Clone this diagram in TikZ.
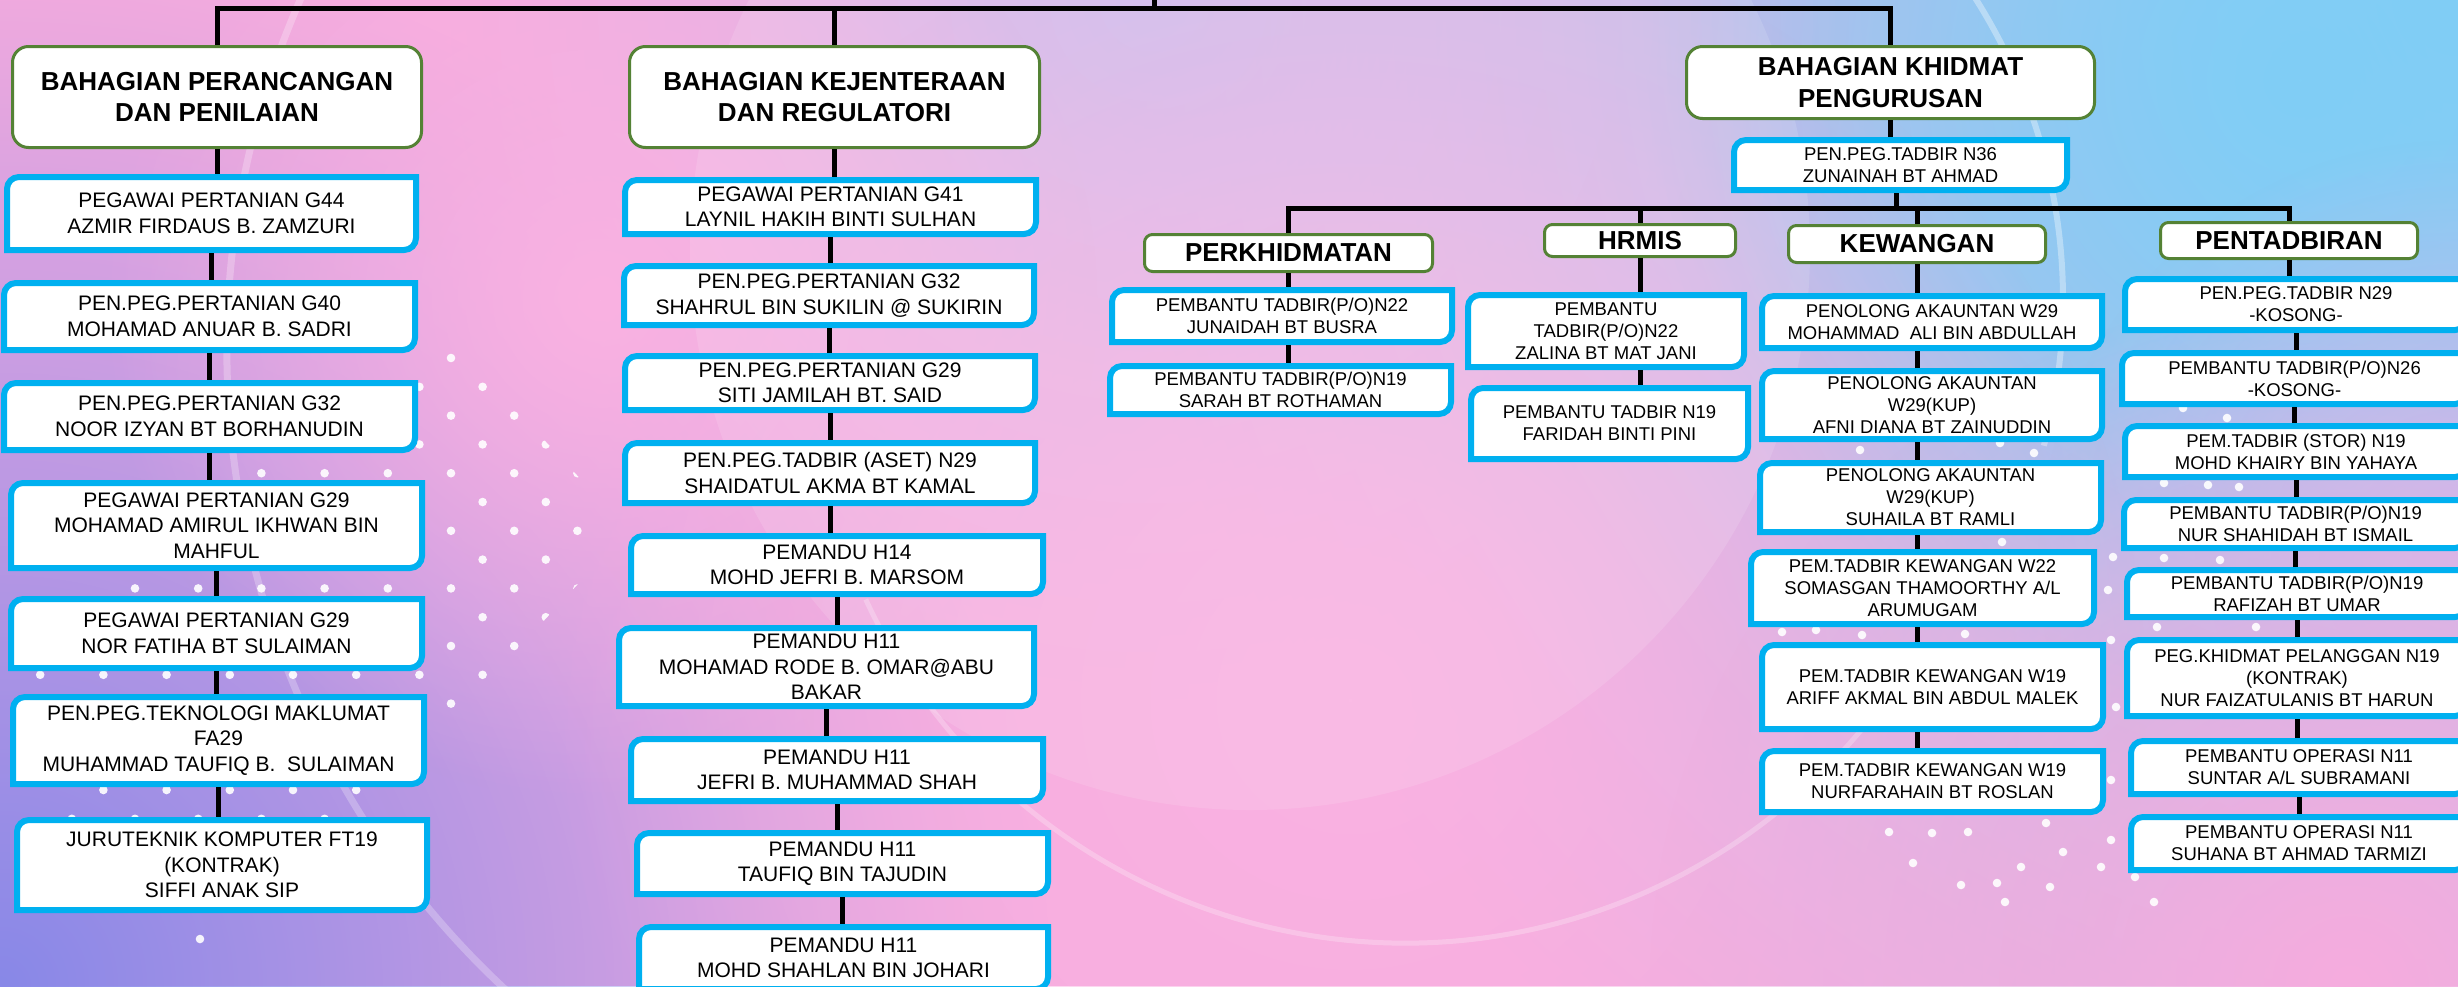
\documentclass[tikz,border=0pt]{standalone}
\usepackage{fontspec}
\setmainfont{Liberation Sans}
\usetikzlibrary{calc,fadings}
\definecolor{bgpink}{RGB}{246,172,222}
\definecolor{bgrose}{RGB}{250,178,226}
\definecolor{bgsky}{RGB}{128,206,246}
\definecolor{bgviolet}{RGB}{136,136,232}
\definecolor{bglilac}{RGB}{204,186,236}
\definecolor{rimblue}{RGB}{0,176,240}
\definecolor{headgreen}{RGB}{84,130,53}
\tikzfading[name=glowfade, inner color=transparent!0, outer color=transparent!100]

\begin{document}
\begin{tikzpicture}[x=1pt,y=1pt,
  link/.style={line width=5pt},
  boxsize/.style 2 args={minimum width=#1pt,minimum height=#2pt},
  division/.style={draw=headgreen,line width=3pt,fill=white,rounded corners=16pt,align=center,inner sep=0pt,font=\bfseries\fontsize{26}{31.5}\selectfont},
  unit/.style={division,rounded corners=8pt},
  staff/.style={align=center,inner sep=0pt,font=\fontsize{21}{25.5}\selectfont,
    path picture={
      \coordinate (framene) at ($(path picture bounding box.north east)+(-3,-3)$);
      \coordinate (framesw) at ($(path picture bounding box.south west)+(3,3)$);
      \filldraw[fill=white,draw=rimblue,line width=6pt] (framene) -- ($(framene |- framesw)+(0,12)$) arc[start angle=0,end angle=-90,radius=12pt] -- (framesw) -- ($(framesw |- framene)+(0,-12)$) arc[start angle=180,end angle=90,radius=12pt] -- cycle;
    }},
  small/.style={staff,font=\fontsize{18.5}{22}\selectfont},
  spot/.style={white,opacity=0.9}]
\useasboundingbox (0,0) rectangle (2458,-986);
\fill[bgpink] (0,0) rectangle (2458,-986);
\fill[bgviolet,path fading=glowfade] (0,-986) circle (1050pt);
\fill[bgsky,path fading=glowfade] (2458,0) circle (1350pt);
\fill[bgsky,path fading=glowfade] (2300,-80) circle (650pt);
\fill[bglilac,path fading=glowfade] (1150,0) circle (700pt);
\fill[bglilac,path fading=glowfade] (2458,-560) circle (420pt);
\fill[bgrose,path fading=glowfade] (600,-300) circle (500pt);
\fill[bgrose,path fading=glowfade] (1350,-700) circle (800pt);
\fill[bgpink,path fading=glowfade] (2350,-986) circle (700pt);
\fill[white,opacity=0.12] (1250,-250) circle (560pt);
\draw[white,opacity=0.25,line width=7pt] (1100,-350) ++(150:873) arc[start angle=150,end angle=240,radius=873pt];
\draw[white,opacity=0.25,line width=5pt] (1405,-348) ++(205:595) arc[start angle=205,end angle=330,radius=595pt];
\draw[white,opacity=0.35,line width=6pt] (1500,-300) ++(40:563) arc[start angle=40,end angle=-15,radius=563pt];
\begin{scope}
\clip (451,-340) -- (628,-530) -- (345,-835) -- (55,-835) -- (25,-665) -- (255,-458) -- cycle;
\foreach \k in {0,...,17}{
  \foreach \i in {-7,...,3}{
    \fill[spot] ({451+63.2*\i+31.6*mod(\k,2)},{-358-28.8*\k}) circle (4.3pt);
  }
}
\end{scope}
\foreach \px/\py in {200/939,1889/832,1932/833,1968/832,2046/823,2111/840,2063/852,1913/863,2021/867,2101/867,1961/885,1997/883,2050/887,2005/902,2154/902,2135/877,2116/707,2111/780,2092/720,2113/557,2108/590,2111/640,2220/560,2164/558,2157/627,2256/627,1782/632,1816/630,1862/635,1965/634,2002/542,1995/563,1860/450,2000/443,2034/453,2183/408,2227/418,2164/483,2208/485,2239/487}
  \fill[spot] (\px,-\py) circle (4.3pt);

\node[division,boxsize={409}{101}] (hl) at (217,-97) {BAHAGIAN PERANCANGAN\\DAN PENILAIAN};
\node[division,boxsize={410}{101}] (hm) at (834.5,-97) {BAHAGIAN KEJENTERAAN\\DAN REGULATORI};
\node[division,boxsize={408}{72}] (hr) at (1890.5,-82.5) {BAHAGIAN KHIDMAT\\PENGURUSAN};

\node[staff,boxsize={415}{79}] (l1) at (211.5,-213.5) {PEGAWAI PERTANIAN G44\\AZMIR FIRDAUS B. ZAMZURI};
\node[staff,boxsize={417}{73}] (l2) at (209.5,-316.5) {PEN.PEG.PERTANIAN G40\\MOHAMAD ANUAR B. SADRI};
\node[staff,boxsize={417}{73}] (l3) at (209.5,-416.5) {PEN.PEG.PERTANIAN G32\\NOOR IZYAN BT BORHANUDIN};
\node[staff,boxsize={417}{91}] (l4) at (216.5,-525.5) {PEGAWAI PERTANIAN G29\\MOHAMAD AMIRUL IKHWAN BIN\\MAHFUL};
\node[staff,boxsize={417}{75}] (l5) at (216.5,-633.5) {PEGAWAI PERTANIAN G29\\NOR FATIHA BT SULAIMAN};
\node[staff,boxsize={417}{93}] (l6) at (218.5,-740.5) {PEN.PEG.TEKNOLOGI MAKLUMAT\\FA29\\MUHAMMAD TAUFIQ B.\ \ SULAIMAN};
\node[staff,boxsize={416}{96}] (l7) at (222,-865) {JURUTEKNIK KOMPUTER FT19\\(KONTRAK)\\SIFFI ANAK SIP};

\node[staff,boxsize={417}{60}] (m1) at (830.5,-207) {PEGAWAI PERTANIAN G41\\LAYNIL HAKIH BINTI SULHAN};
\node[staff,boxsize={416}{65}] (m2) at (829,-295.5) {PEN.PEG.PERTANIAN G32\\SHAHRUL BIN SUKILIN @ SUKIRIN};
\node[staff,boxsize={416}{60}] (m3) at (830,-383) {PEN.PEG.PERTANIAN G29\\SITI JAMILAH BT. SAID};
\node[staff,boxsize={416}{66}] (m4) at (830,-473) {PEN.PEG.TADBIR (ASET) N29\\SHAIDATUL AKMA BT KAMAL};
\node[staff,boxsize={418}{64}] (m5) at (837,-565) {PEMANDU H14\\MOHD JEFRI B. MARSOM};
\node[staff,boxsize={421}{84}] (m6) at (826.5,-667) {PEMANDU H11\\MOHAMAD RODE B. OMAR@ABU\\BAKAR};
\node[staff,boxsize={418}{68}] (m7) at (837,-770) {PEMANDU H11\\JEFRI B. MUHAMMAD SHAH};
\node[staff,boxsize={417}{67}] (m8) at (842.5,-863.5) {PEMANDU H11\\TAUFIQ BIN TAJUDIN};
\node[staff,boxsize={415}{68}] (m9) at (843.5,-958) {PEMANDU H11\\MOHD SHAHLAN BIN JOHARI};

\node[small,boxsize={339}{56}] (r0) at (1900.5,-165) {PEN.PEG.TADBIR N36\\ZUNAINAH BT AHMAD};

\node[unit,boxsize={288}{37}] (hp) at (1288.5,-253) {PERKHIDMATAN};
\node[unit,boxsize={191}{32}] (hh) at (1640,-240.5) {HRMIS};
\node[unit,boxsize={257}{37}] (hk) at (1917,-244) {KEWANGAN};
\node[unit,boxsize={257}{36}] (ht) at (2289,-240.5) {PENTADBIRAN};

\node[small,boxsize={346}{58}] (p1) at (1282,-316) {PEMBANTU TADBIR(P/O)N22\\JUNAIDAH BT BUSRA};
\node[small,boxsize={347}{54}] (p2) at (1280.5,-390) {PEMBANTU TADBIR(P/O)N19\\SARAH BT ROTHAMAN};
\node[small,boxsize={282}{78}] (h1) at (1606,-331) {PEMBANTU\\TADBIR(P/O)N22\\ZALINA BT MAT JANI};
\node[small,boxsize={283}{77}] (h2) at (1609.5,-423.5) {PEMBANTU TADBIR N19\\FARIDAH BINTI PINI};

\node[small,boxsize={346}{58}] (k1) at (1932,-322) {PENOLONG AKAUNTAN W29\\MOHAMMAD\ \ ALI BIN ABDULLAH};
\node[small,boxsize={346}{74}] (k2) at (1932,-405) {PENOLONG AKAUNTAN\\W29(KUP)\\AFNI DIANA BT ZAINUDDIN};
\node[small,boxsize={347}{75}] (k3) at (1930.5,-497.5) {PENOLONG AKAUNTAN\\W29(KUP)\\SUHAILA BT RAMLI};
\node[small,boxsize={349}{78}] (k4) at (1922.5,-588) {PEM.TADBIR KEWANGAN W22\\SOMASGAN THAMOORTHY A/L\\ARUMUGAM};
\node[small,boxsize={347}{90}] (k5) at (1932.5,-687) {PEM.TADBIR KEWANGAN W19\\ARIFF AKMAL BIN ABDUL MALEK};
\node[small,boxsize={347}{67}] (k6) at (1932.5,-781.5) {PEM.TADBIR KEWANGAN W19\\NURFARAHAIN BT ROSLAN};

\node[small,boxsize={348}{57}] (t1) at (2296,-304.5) {PEN.PEG.TADBIR N29\\-KOSONG-};
\node[small,boxsize={351}{57}] (t2) at (2294.5,-378.5) {PEMBANTU TADBIR(P/O)N26\\-KOSONG-};
\node[small,boxsize={348}{57}] (t3) at (2296,-451.5) {PEM.TADBIR (STOR) N19\\MOHD KHAIRY BIN YAHAYA};
\node[small,boxsize={349}{54}] (t4) at (2295.5,-524) {PEMBANTU TADBIR(P/O)N19\\NUR SHAHIDAH BT ISMAIL};
\node[small,boxsize={346}{53}] (t5) at (2297,-593.5) {PEMBANTU TADBIR(P/O)N19\\RAFIZAH BT UMAR};
\node[small,boxsize={346}{82}] (t6) at (2297,-678) {PEG.KHIDMAT PELANGGAN N19\\(KONTRAK)\\NUR FAIZATULANIS BT HARUN};
\node[small,boxsize={342}{59}] (t7) at (2299,-767.5) {PEMBANTU OPERASI N11\\SUNTAR A/L SUBRAMANI};
\node[small,boxsize={342}{59}] (t8) at (2299,-843.5) {PEMBANTU OPERASI N11\\SUHANA BT AHMAD TARMIZI};

\coordinate (stem) at (1154,0);
\coordinate (bar) at (1154,-8);
\coordinate (branch) at (1896,-208);
\draw[link] (hl.north) |- (bar) -| (hr.north);
\draw[link] (hm.north) -- (hm.north |- bar);
\draw[link] (bar) -- (stem);
\draw[link] (hl.south) -- (hl.south |- l1.north);
\draw[link] (l1.south) -- (l1.south |- l2.north);
\draw[link] (l2.south) -- (l2.south |- l3.north);
\draw[link] (l3.south) -- (l3.south |- l4.north);
\draw[link] (l4.south) -- (l4.south |- l5.north);
\draw[link] (l5.south) -- (l5.south |- l6.north);
\draw[link] (l6.south) -- (l6.south |- l7.north);
\draw[link] (hm.south) -- (hm.south |- m1.north);
\draw[link] (m1.south) -- (m1.south |- m2.north);
\draw[link] (m2.south) -- (m2.south |- m3.north);
\draw[link] (m3.south) -- (m3.south |- m4.north);
\draw[link] (m4.south) -- (m4.south |- m5.north);
\draw[link] (m5.south) -- (m5.south |- m6.north);
\draw[link] (m6.south) -- (m6.south |- m7.north);
\draw[link] (m7.south) -- (m7.south |- m8.north);
\draw[link] (m8.south) -- (m8.south |- m9.north);
\draw[link] (hr.south) -- (hr.south |- r0.north);
\draw[link] (r0.south -| branch) -- (branch);
\draw[link] (hp.north) |- (branch) -| (ht.north);
\draw[link] (hh.north) -- (hh.north |- branch);
\draw[link] (hk.north) -- (hk.north |- branch);
\draw[link] (hp.south) -- (hp.south |- p1.north);
\draw[link] (hp.south |- p1.south) -- (hp.south |- p2.north);
\draw[link] (hh.south) -- (hh.south |- h1.north);
\draw[link] (hh.south |- h1.south) -- (hh.south |- h2.north);
\draw[link] (hk.south) -- (hk.south |- k1.north);
\draw[link] (hk.south |- k1.south) -- (hk.south |- k2.north);
\draw[link] (hk.south |- k2.south) -- (hk.south |- k3.north);
\draw[link] (hk.south |- k3.south) -- (hk.south |- k4.north);
\draw[link] (hk.south |- k4.south) -- (hk.south |- k5.north);
\draw[link] (hk.south |- k5.south) -- (hk.south |- k6.north);
\draw[link] (ht.south) -- (ht.south |- t1.north);
\draw[link] (t1.south) -- (t1.south |- t2.north);
\draw[link] (t2.south) -- (t2.south |- t3.north);
\draw[link] (t3.south) -- (t3.south |- t4.north);
\draw[link] (t4.south) -- (t4.south |- t5.north);
\draw[link] (t5.south) -- (t5.south |- t6.north);
\draw[link] (t6.south) -- (t6.south |- t7.north);
\draw[link] (t7.south) -- (t7.south |- t8.north);
\end{tikzpicture}
\end{document}
